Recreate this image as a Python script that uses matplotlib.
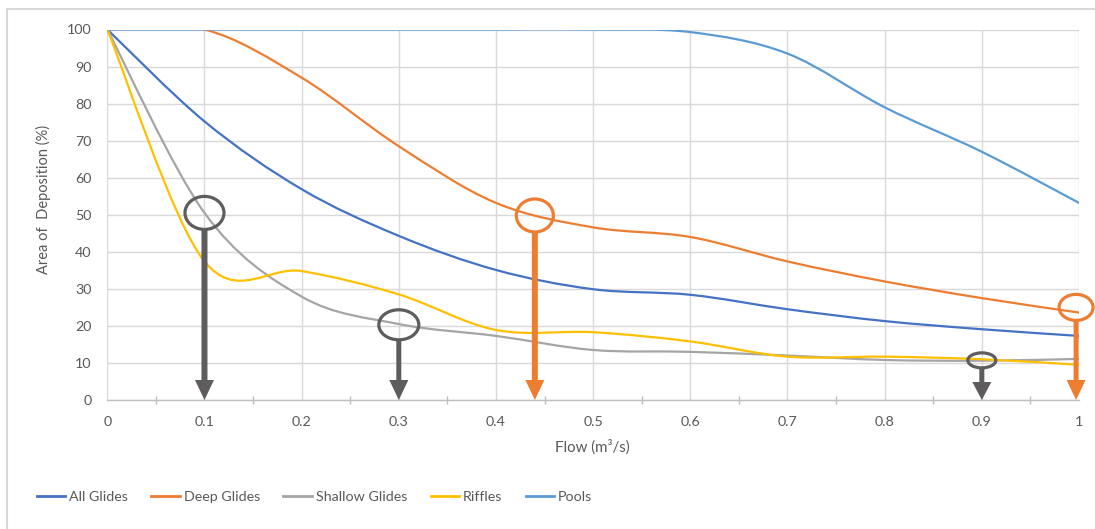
import numpy as np
import matplotlib
matplotlib.use("Agg")
import matplotlib.pyplot as plt
from matplotlib.path import Path
from matplotlib.patches import PathPatch, Ellipse, Rectangle
from matplotlib.lines import Line2D

plt.rcParams['font.family'] = ['Lato', 'DejaVu Sans']

# ---- data ----
flow = [0.0, 0.1, 0.2, 0.3, 0.4, 0.5, 0.6, 0.7, 0.8, 0.9, 1.0]
all_glides = [100, 75.2, 56.9, 44.3, 35.1, 29.9, 28.4, 24.5, 21.3, 19.1, 17.3]
deep_glides = [100, 100, 87.0, 68.5, 53.2, 46.6, 44.0, 37.4, 32.0, 27.5, 23.6]
shallow_glides = [100, 50.5, 27.9, 20.5, 17.3, 13.5, 13.0, 12.0, 10.8, 10.6, 11.1]
riffles = [100, 37.4, 34.8, 28.5, 18.9, 18.3, 15.8, 11.7, 11.7, 11.0, 9.5]
pools = [100, 100, 100, 100, 100, 100, 99.3, 93.5, 79.0, 67.0, 53.2]

series_names = ["All Glides", "Deep Glides", "Shallow Glides", "Riffles", "Pools"]
series_values = [all_glides, deep_glides, shallow_glides, riffles, pools]
series_colors = ["#4472C4", "#ED7D31", "#A5A5A5", "#FFC000", "#5B9BD5"]

x_ticks = [0, 0.1, 0.2, 0.3, 0.4, 0.5, 0.6, 0.7, 0.8, 0.9, 1]
x_tick_labels = ["0", "0.1", "0.2", "0.3", "0.4", "0.5", "0.6", "0.7", "0.8", "0.9", "1"]
y_ticks = [0, 10, 20, 30, 40, 50, 60, 70, 80, 90, 100]

# highlighted points (x, y) and their colours
mark_x = [0.1, 0.3, 0.44, 0.9, 0.997]
mark_y = [50.5, 20.3, 49.8, 10.7, 25.0]
mark_colors = ["#5E5C5C", "#5E5C5C", "#ED7D31", "#5E5C5C", "#ED7D31"]
# ellipse sizes in pixels (w, h) and shaft width in pixels
mark_w_px = [39, 40, 37, 28, 34]
mark_h_px = [33, 30, 33, 15, 26]
shaft_px = [6, 5, 6, 5, 5]
head_len_px = [20, 20, 20, 18, 20]

W, H = 1095, 529
fig = plt.figure(figsize=(W / 100, H / 100), dpi=100)
x0_px, x1_px, y0_px, y1_px = 107.3, 1079.0, 400.0, 29.5
ax = fig.add_axes([x0_px / W, 1 - y0_px / H, (x1_px - x0_px) / W, (y0_px - y1_px) / H])
px_x = (x1_px - x0_px) / 1.0     # px per x unit
px_y = (y0_px - y1_px) / 100.0   # px per y unit

ax.set_xlim(0, 1)
ax.set_ylim(0, 100)
ax.set_xticks(x_ticks)
ax.set_xticklabels(x_tick_labels)
ax.set_yticks(y_ticks)
ax.set_xticks(np.arange(0.05, 1.0, 0.1), minor=True)
ax.grid(True, which='major', color='#D9D9D9', lw=1.0)
ax.set_axisbelow(True)
for s in ['left', 'right', 'top']:
    ax.spines[s].set_visible(False)
ax.spines['bottom'].set_color('#BFBFBF')
ax.spines['bottom'].set_linewidth(1.0)
ax.tick_params(axis='both', which='major', length=0, labelsize=10.3, labelcolor='#595959')
ax.tick_params(axis='y', pad=11.5)
ax.tick_params(axis='x', pad=11.5)
ax.tick_params(axis='x', which='minor', length=6, direction='inout', color='#BFBFBF', width=1.0)


def smooth_path(xs, ys):
    pts = np.column_stack([xs, ys]).astype(float)
    n = len(pts)
    verts = [pts[0]]
    codes = [Path.MOVETO]
    for i in range(n - 1):
        p0 = pts[i - 1] if i > 0 else pts[i]
        p1 = pts[i]
        p2 = pts[i + 1]
        p3 = pts[i + 2] if i + 2 < n else pts[i + 1]
        c1 = p1 + (p2 - p0) / 6.0
        c2 = p2 - (p3 - p1) / 6.0
        verts += [c1, c2, p2]
        codes += [Path.CURVE4] * 3
    return Path(verts, codes)


handles = []
for name, vals, col in zip(series_names, series_values, series_colors):
    patch = PathPatch(smooth_path(flow, vals), fill=False, ec=col, lw=1.6,
                      capstyle='round', joinstyle='round', zorder=3)
    ax.add_patch(patch)
    handles.append(Line2D([], [], color=col, lw=2.0, label=name))

# annotations: ellipse + downward arrow to the x axis
for mx, my, mc, wpx, hpx, spx, hl in zip(mark_x, mark_y, mark_colors, mark_w_px,
                                          mark_h_px, shaft_px, head_len_px):
    ax.add_patch(Ellipse((mx, my), wpx / px_x, hpx / px_y, fill=False, ec=mc,
                         lw=2.3, zorder=5, clip_on=False))
    ybot = my - (hpx / 2) / px_y
    ax.arrow(mx, ybot, 0, -ybot, width=spx / px_x, head_width=19 / px_x,
             head_length=hl / px_y, length_includes_head=True, fc=mc, ec=mc,
             lw=0, zorder=5, clip_on=False)

fig.text(43 / W, 1 - 199 / H, "Area of  Deposition (%)", rotation=90,
         ha='center', va='center', fontsize=10.5, color='#595959')
fig.text(592 / W, 1 - 447 / H, "Flow (m³/s)", ha='center', va='center',
         fontsize=10.8, color='#595959')

leg = ax.legend(handles=handles, loc='center left', bbox_to_anchor=(36.7 / W, 1 - 496.7 / H),
                bbox_transform=fig.transFigure, ncol=5, frameon=False, fontsize=10.3,
                handlelength=2.0, handletextpad=0.25, columnspacing=1.65,
                borderpad=0, borderaxespad=0)
for t in leg.get_texts():
    t.set_color('#595959')

# outer chart frame (top and left edges visible)
fig.add_artist(Rectangle((7 / W, -0.1), 1.2, (1 - 8.5 / H) + 0.1, transform=fig.transFigure,
                         fill=False, ec='#D9D9D9', lw=1.5))

fig.savefig("out.png", dpi=100)
